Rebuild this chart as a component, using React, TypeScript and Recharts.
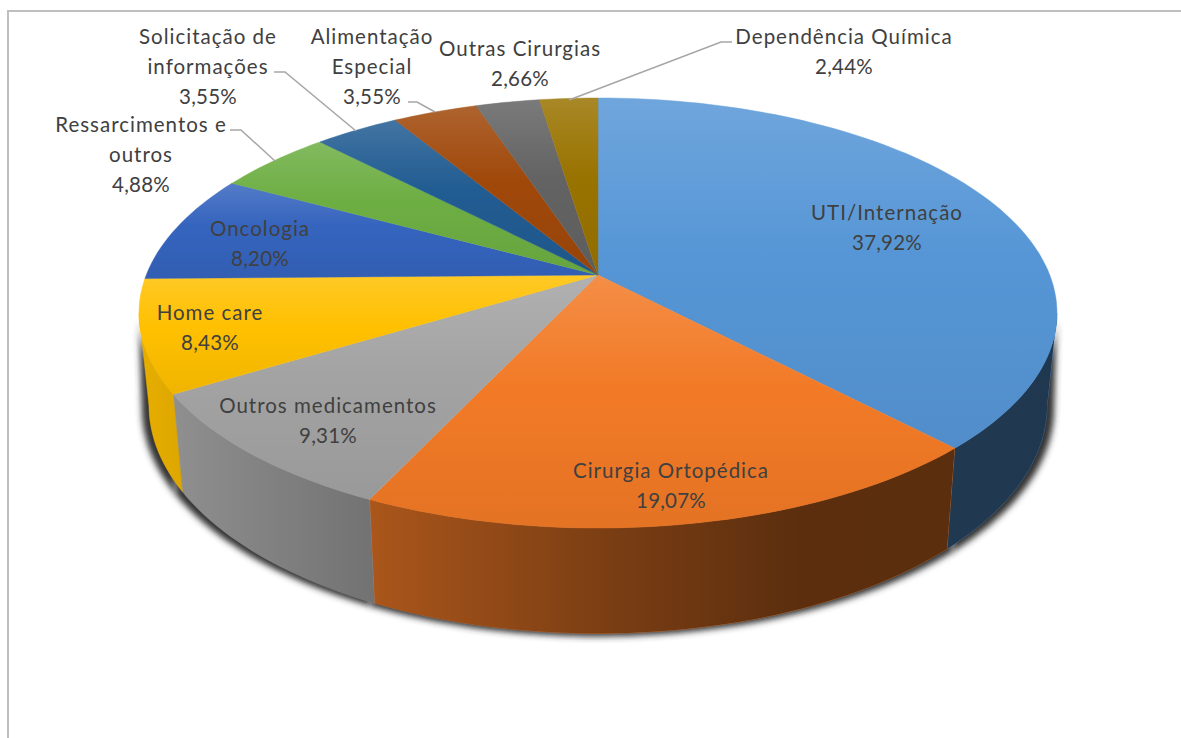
import React from "react";
import { PieChart, Pie } from "recharts";

const categories = ["UTI/Internação", "Cirurgia Ortopédica", "Outros medicamentos", "Home care", "Oncologia", "Ressarcimentos e outros", "Solicitação de informações", "Alimentação Especial", "Outras Cirurgias", "Dependência Química"];
const values = [37.92, 19.07, 9.31, 8.43, 8.2, 4.88, 3.55, 3.55, 2.66, 2.44];
const colors = ["#5696D6", "#F27A26", "#A3A3A3", "#FFC000", "#3564BE", "#6DAE43", "#215C92", "#A0480A", "#636363", "#997300"];
const labelLines = [["UTI/Internação"], ["Cirurgia Ortopédica"], ["Outros medicamentos"], ["Home care"], ["Oncologia"], ["Ressarcimentos e", "outros"], ["Solicitação de", "informações"], ["Alimentação", "Especial"], ["Outras Cirurgias"], ["Dependência Química"]];

// label layout: centre x, first baseline y
const labelX = [887, 671, 328, 210, 260, 141, 208, 372, 520, 844];
const labelY = [220, 478, 413, 320, 236, 132, 44, 44, 56, 44];
const leaders: Record<number, string> = {
  5: "230,130 241,130 275,161",
  6: "274,72 285,72 356,131",
  7: "408,102 417,102 435,112",
  9: "732,42 721,42 569,100",
};

const data = categories.map((name, i) => ({ name, value: values[i], fill: colors[i] }));

// projection of the tilted disc
const K = 0.1767;
const top = { cy: 275, a: 451.8, b: 208.3 };
const bottom = { cy: 365, a: 442, b: 221 };
const CX = 598;
const project = (deg: number, p: { cy: number; a: number; b: number }, extra = 0) => {
  const t = (deg * Math.PI) / 180;
  const u = Math.sin(t), v = Math.cos(t), w = 1 + K * v;
  return [CX + ((p.a + extra) * u) / w, p.cy - (p.b * v) / w] as [number, number];
};
const arc = (from: number, to: number, p: typeof top, extra = 0) => {
  const n = Math.max(2, Math.ceil(Math.abs(to - from) / 1.5));
  const pts: [number, number][] = [];
  for (let i = 0; i <= n; i++) pts.push(project(from + ((to - from) * i) / n, p, extra));
  return pts;
};
const toPath = (pts: [number, number][]) => "M" + pts.map((q) => q[0].toFixed(1) + "," + q[1].toFixed(1)).join("L") + "Z";
const FRONT_A = 100.18, FRONT_B = 259.82;

const wallPath = (t0: number, t1: number, extra = 0, b = bottom) => {
  const a0 = Math.max(t0, FRONT_A), a1 = Math.min(t1, FRONT_B);
  if (a1 <= a0) return null;
  return toPath([...arc(a0, a1, top), ...arc(a1, a0, b, extra)]);
};

const Slice = (props: any) => {
  const t0 = 90 - props.startAngle, t1 = 90 - props.endAngle;
  const wall = wallPath(t0, t1);
  const face = toPath([[CX, top.cy], ...arc(t0, t1, top)]);
  return (
    <g>
      {wall && <path d={wall} fill={props.fill} stroke={props.fill} strokeWidth={0.4} />}
      {wall && <path d={wall} fill="url(#wallShade)" />}
      <path d={face} fill={props.fill} stroke={props.fill} strokeWidth={0.4} />
      <path d={face} fill="url(#faceSheen)" />
    </g>
  );
};

const ShadowSlice = (props: any) => {
  const t0 = 90 - props.startAngle, t1 = 90 - props.endAngle;
  const wall = wallPath(t0, t1, 7, { ...bottom, cy: bottom.cy + 3 });
  return wall ? <path d={wall} fill="#303030" filter="url(#softShadow)" /> : <g />;
};

const Label = (props: any) => {
  const i = props.index;
  const lines = [...labelLines[i], values[i].toFixed(2).replace(".", ",") + "%"];
  return (
    <g>
      {leaders[i] && <polyline points={leaders[i]} fill="none" stroke="#A6A6A6" strokeWidth={1.5} />}
      {lines.map((s, k) => (
        <text key={k} x={labelX[i]} y={labelY[i] + k * 30} textAnchor="middle" fill="#404040" fontFamily="Lato" fontSize={20.5} letterSpacing={k === lines.length - 1 ? 0.2 : 1}>
          {s}
        </text>
      ))}
    </g>
  );
};

export default function App() {
  return (
    <div style={{ position: "absolute", left: 0, top: 0, width: 1181, height: 738, overflow: "hidden", background: "#fff" }}>
      <div style={{ position: "absolute", left: 7, top: 10, right: -5, bottom: -5, borderLeft: "2px solid #BFBFBF", borderTop: "2px solid #BFBFBF" }} />
      <div style={{ position: "absolute", left: 0, top: 0 }}>
        <PieChart width={1181} height={738} margin={{ top: 0, right: 0, bottom: 0, left: 0 }}>
          <defs>
            <linearGradient id="faceSheen" x1="0" y1="0" x2="0" y2="1">
              <stop offset="0" stopColor="#fff" stopOpacity={0.15} />
              <stop offset="0.45" stopColor="#fff" stopOpacity={0} />
              <stop offset="0.45" stopColor="#000" stopOpacity={0} />
              <stop offset="1" stopColor="#000" stopOpacity={0.06} />
            </linearGradient>
            <linearGradient id="wallShade" gradientUnits="userSpaceOnUse" x1="147" y1="0" x2="1050" y2="0">
              <stop offset="0" stopColor="#000" stopOpacity={0.1} />
              <stop offset="0.25" stopColor="#000" stopOpacity={0.3} />
              <stop offset="0.52" stopColor="#000" stopOpacity={0.5} />
              <stop offset="0.72" stopColor="#000" stopOpacity={0.62} />
              <stop offset="1" stopColor="#000" stopOpacity={0.63} />
            </linearGradient>
            <filter id="softShadow" x="-20%" y="-20%" width="140%" height="140%">
              <feGaussianBlur stdDeviation="3" />
            </filter>
          </defs>
          <Pie data={data} dataKey="value" cx={CX} cy={top.cy} outerRadius={208} startAngle={90} endAngle={-270} stroke="none" isAnimationActive={false} shape={ShadowSlice} />
          <Pie data={data} dataKey="value" cx={CX} cy={top.cy} outerRadius={208} startAngle={90} endAngle={-270} stroke="none" isAnimationActive={false} shape={Slice} label={Label} labelLine={false} />
        </PieChart>
      </div>
    </div>
  );
}
